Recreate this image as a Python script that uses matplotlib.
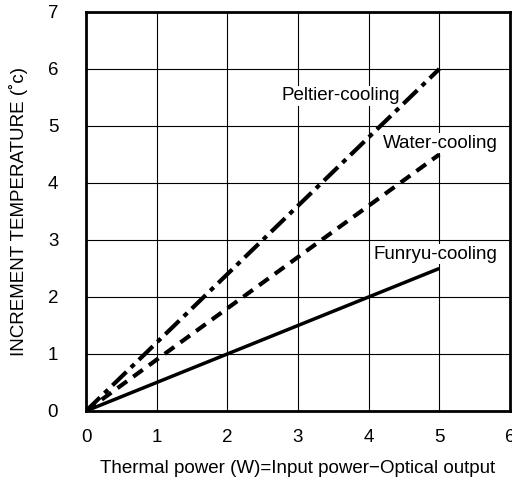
import matplotlib
matplotlib.use("Agg")
import matplotlib.pyplot as plt

plt.rcParams['font.family'] = ['Liberation Sans', 'DejaVu Sans']
plt.rcParams['lines.scale_dashes'] = False

# data
x_pts = [0, 5]
peltier = [0, 6.0]
water = [0, 4.5]
funryu = [0, 2.5]

fs = 13.5

fig = plt.figure(figsize=(5.12, 4.79), dpi=100)
ax = fig.add_axes([0.168, 0.142, 0.828, 0.833])

ax.plot(x_pts, peltier, color='black', lw=3, dashes=(14, 4.5, 3.5, 4.5))
ax.plot(x_pts, water, color='black', lw=3, dashes=(8.5, 5.5))
ax.plot(x_pts, funryu, color='black', lw=2.5, solid_capstyle='butt')

bbox = dict(facecolor='white', edgecolor='none', pad=1)
ax.text(3.6, 5.53, 'Peltier-cooling', fontsize=fs, ha='center', va='center', bbox=bbox)
ax.text(5.02, 4.7, 'Water-cooling', fontsize=fs, ha='center', va='center', bbox=bbox)
ax.text(4.95, 2.75, 'Funryu-cooling', fontsize=fs, ha='center', va='center', bbox=bbox)

ax.set_xlim(0, 6)
ax.set_ylim(0, 7)
ax.set_xticks(range(7))
ax.set_yticks(range(8))
ax.grid(True, color='black', lw=0.8)
ax.set_axisbelow(True)
ax.tick_params(length=0, labelsize=fs)
ax.tick_params(axis='x', pad=13)
ax.tick_params(axis='y', pad=20)
for s in ax.spines.values():
    s.set_linewidth(2)

ax.set_xlabel('Thermal power (W)=Input power\u2212Optical output', fontsize=fs, labelpad=10)
ax.set_ylabel('INCREMENT TEMPERATURE (\u02dac)', fontsize=fs, labelpad=14)

fig.savefig('out.png', dpi=100)
